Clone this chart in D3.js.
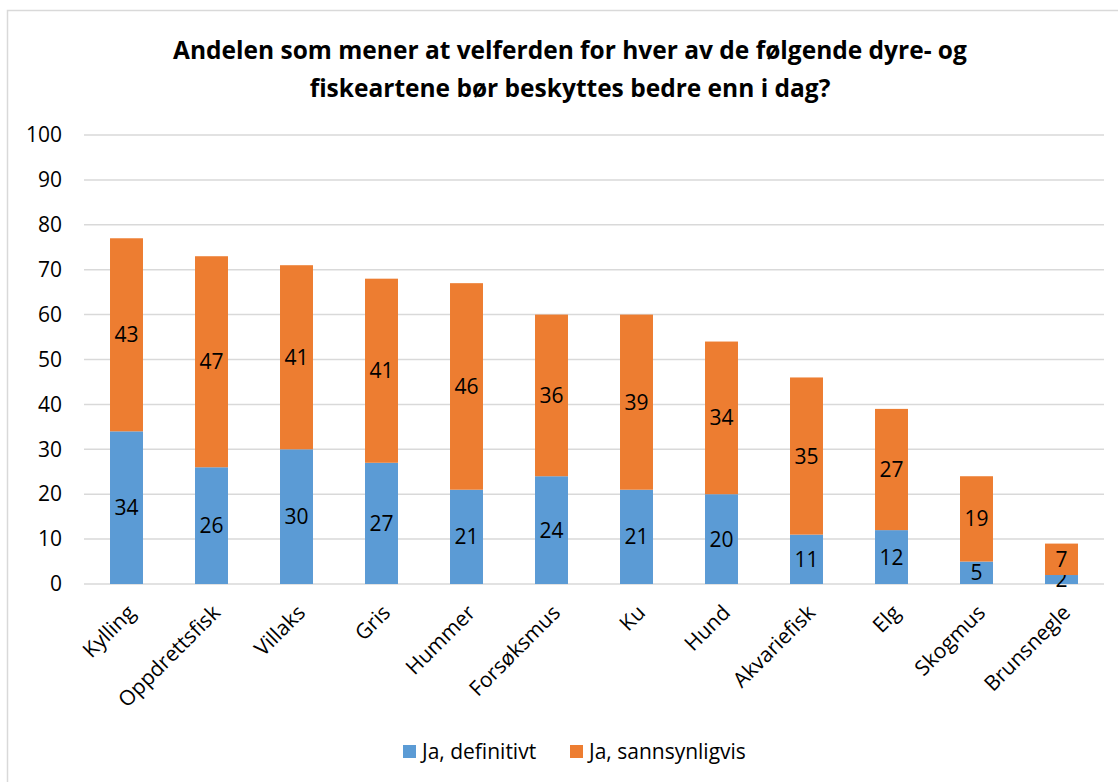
<!DOCTYPE html>
<html>
<head>
<meta charset="utf-8">
<script src="https://cdn.jsdelivr.net/npm/d3@7"></script>
<style>
  body { margin: 0; background: #fff; }
  svg { font-family: "Open Sans", sans-serif; }
</style>
</head>
<body>
<svg id="chart" width="1118" height="782"></svg>
<script>
const categories = ['Kylling', 'Oppdrettsfisk', 'Villaks', 'Gris', 'Hummer', 'Forsøksmus', 'Ku', 'Hund', 'Akvariefisk', 'Elg', 'Skogmus', 'Brunsnegle']
const definitivt = [34, 26, 30, 27, 21, 24, 21, 20, 11, 12, 5, 2]
const sannsynligvis = [43, 47, 41, 41, 46, 36, 39, 34, 35, 27, 19, 7]
const seriesNames = ['Ja, definitivt', 'Ja, sannsynligvis']
const yTicks = [0, 10, 20, 30, 40, 50, 60, 70, 80, 90, 100]
const titleLines = ['Andelen som mener at velferden for hver av de følgende dyre- og', 'fiskeartene bør beskyttes bedre enn i dag?']

const colors = ['#5b9bd5', '#ed7d31']
const plot = { left: 84, right: 1104, top: 135, bottom: 584 }
const fontSize = 21

const svg = d3.select('#chart')

// chart border
svg.append('rect')
  .attr('x', 7.5).attr('y', 10.5)
  .attr('width', 1200).attr('height', 900)
  .attr('fill', 'none')
  .attr('stroke', '#d9d9d9')
  .attr('stroke-width', 1.5)

// title
svg.append('g').selectAll('text')
  .data(titleLines)
  .enter().append('text')
  .attr('x', 570)
  .attr('y', (d, i) => 59 + i * 38)
  .attr('text-anchor', 'middle')
  .attr('font-size', 24.5)
  .attr('font-weight', 'bold')
  .attr('fill', '#000')
  .text(d => d)

const x = d3.scaleBand()
  .domain(categories)
  .range([plot.left, plot.right])
  .paddingInner(0.612)
  .paddingOuter(0.306)

const y = d3.scaleLinear()
  .domain([0, 100])
  .range([plot.bottom, plot.top])

// gridlines
svg.append('g').selectAll('line')
  .data(yTicks)
  .enter().append('line')
  .attr('x1', plot.left).attr('x2', plot.right)
  .attr('y1', d => y(d)).attr('y2', d => y(d))
  .attr('stroke', '#d9d9d9')
  .attr('stroke-width', 1.5)

// y axis labels
const yAxis = d3.axisLeft(y).tickValues(yTicks).tickSize(0).tickPadding(0)
const yg = svg.append('g')
  .attr('transform', `translate(${plot.left - 22},0)`)
  .call(yAxis)
yg.select('.domain').remove()
yg.selectAll('text')
  .attr('font-size', fontSize)
  .attr('font-family', '"Open Sans", sans-serif')
  .attr('fill', '#000')

// stacked bars
const rows = categories.map((c, i) => ({ cat: c, s0: definitivt[i], s1: sannsynligvis[i] }))
const stack = d3.stack().keys(['s0', 's1'])(rows)

const layers = svg.append('g').selectAll('g')
  .data(stack)
  .enter().append('g')
  .attr('fill', (d, i) => colors[i])

layers.selectAll('rect')
  .data(d => d)
  .enter().append('rect')
  .attr('x', d => x(d.data.cat))
  .attr('y', d => y(d[1]))
  .attr('width', x.bandwidth())
  .attr('height', d => y(d[0]) - y(d[1]))

// data labels
layers.selectAll('text')
  .data(d => d)
  .enter().append('text')
  .attr('x', d => x(d.data.cat) + x.bandwidth() / 2)
  .attr('y', d => y((d[0] + d[1]) / 2) + 7.5)
  .attr('text-anchor', 'middle')
  .attr('font-size', fontSize)
  .attr('fill', '#000')
  .text(d => d[1] - d[0])

// x axis labels
const xAxis = d3.axisBottom(x).tickSize(0).tickPadding(0)
const xg = svg.append('g')
  .attr('transform', `translate(0,${plot.bottom})`)
  .call(xAxis)
xg.select('.domain').remove()
xg.selectAll('text')
  .attr('font-size', fontSize)
  .attr('font-family', '"Open Sans", sans-serif')
  .attr('fill', '#000')
  .attr('text-anchor', 'end')
  .attr('dy', 0)
  .attr('transform', 'translate(10,30) rotate(-45)')

// legend
const legend = svg.append('g').selectAll('g')
  .data(seriesNames)
  .enter().append('g')
  .attr('transform', (d, i) => `translate(${403 + i * 167},745)`)

legend.append('rect')
  .attr('width', 13).attr('height', 13)
  .attr('fill', (d, i) => colors[i])

legend.append('text')
  .attr('x', 19).attr('y', 14)
  .attr('font-size', fontSize)
  .attr('fill', '#000')
  .text(d => d)
</script>
</body>
</html>
